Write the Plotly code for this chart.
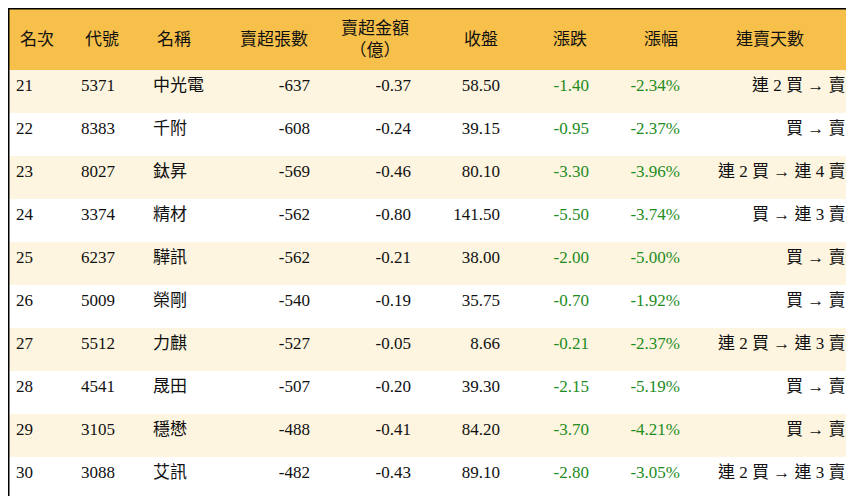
import plotly.graph_objects as go

headers = ["名次", "代號", "名稱", "賣超張數", "賣超金額<br>（億）", "收盤", "漲跌", "漲幅", "連賣天數"]
rank = [21, 22, 23, 24, 25, 26, 27, 28, 29, 30]
code = ["5371", "8383", "8027", "3374", "6237", "5009", "5512", "4541", "3105", "3088"]
name = ["中光電", "千附", "鈦昇", "精材", "驊訊", "榮剛", "力麒", "晟田", "穩懋", "艾訊"]
net_sell = [-637, -608, -569, -562, -562, -540, -527, -507, -488, -482]
amount = [-0.37, -0.24, -0.46, -0.80, -0.21, -0.19, -0.05, -0.20, -0.41, -0.43]
close = [58.50, 39.15, 80.10, 141.50, 38.00, 35.75, 8.66, 39.30, 84.20, 89.10]
change = [-1.40, -0.95, -3.30, -5.50, -2.00, -0.70, -0.21, -2.15, -3.70, -2.80]
pct = [-2.34, -2.37, -3.96, -3.74, -5.00, -1.92, -2.37, -5.19, -4.21, -3.05]
streak = ["連 2 買 → 賣", "買 → 賣", "連 2 買 → 連 4 賣", "買 → 連 3 賣", "買 → 賣",
          "買 → 賣", "連 2 買 → 連 3 賣", "買 → 賣", "買 → 賣", "連 2 買 → 連 3 賣"]

W, H = 854, 496
HEADER_H = 62
green = "#1E8C1E"
black = "#111111"
row_fill = ["#FDF5DF" if i % 2 == 0 else "#FFFFFF" for i in range(len(rank))]
font = "Liberation Serif, Noto Sans CJK TC, serif"

cols = [
    [str(v) for v in rank],
    code,
    name,
    [f"{v:d}" for v in net_sell],
    [f"{v:.2f}" for v in amount],
    [f"{v:.2f}" for v in close],
    [f"{v:.2f}" for v in change],
    [f"{v:.2f}%" for v in pct],
    [s + "\u00a0\u00a0" for s in streak],
]
colors = [black] * 6 + [green, green, black]
widths = [65, 72, 73, 100, 101, 89, 89, 91, 174]

fig = go.Figure(go.Table(
    columnwidth=widths,
    header=dict(values=[""] * 9, fill_color="#F6C04B", height=HEADER_H, line=dict(width=0)),
    cells=dict(values=cols, fill_color=[row_fill] * 9, height=43,
               align=["left", "left", "left", "right", "right", "right", "right", "right", "right"],
               font=dict(family=font, size=17, color=[[c] * 10 for c in colors]),
               line=dict(width=0)),
    domain=dict(x=[0, 1], y=[0, 1]),
))

# header labels, vertically centred
edges = [0]
for w in widths:
    edges.append(edges[-1] + w)
hdr_align = ["left", "left", "left", "right", "right", "right", "right", "right", "center"]
for i, h in enumerate(headers):
    if hdr_align[i] == "left":
        x, xa = edges[i] + 10, "left"
    elif hdr_align[i] == "right":
        x, xa = edges[i + 1] - 8, "right"
    else:
        x, xa = (edges[i] + edges[i + 1]) / 2 - 5, "center"
    fig.add_annotation(x=x / W, y=1 - (HEADER_H / 2) / H, xref="paper", yref="paper",
                       text=h, showarrow=False, xanchor=xa, yanchor="middle", align="center",
                       font=dict(family=font, size=17, color=black))

fig.add_shape(type="rect", xref="paper", yref="paper", x0=0, x1=1, y0=0, y1=1,
              line=dict(color="black", width=3))
fig.update_layout(width=W, height=H, margin=dict(l=0, r=0, t=0, b=0),
                  paper_bgcolor="white")
fig.write_html("out.html")
